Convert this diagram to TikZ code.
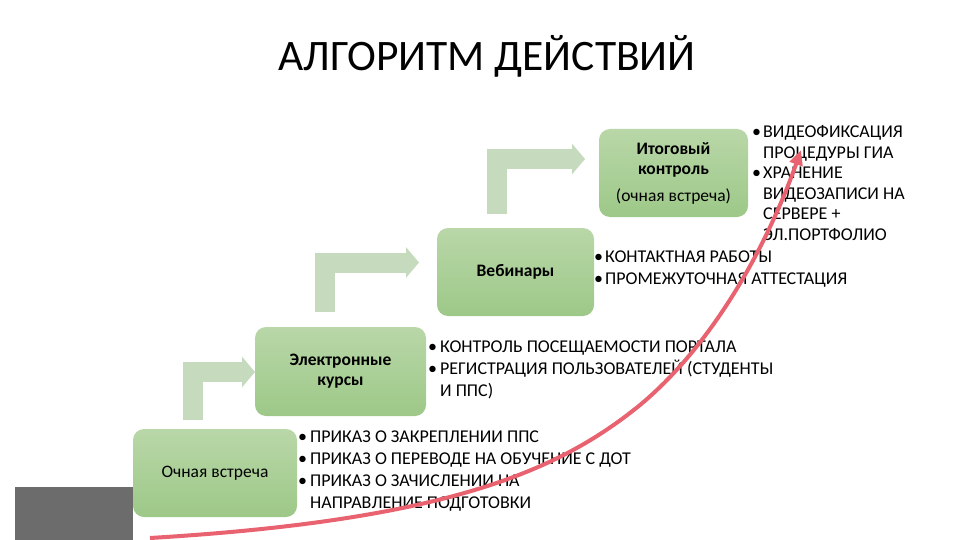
\documentclass[tikz,border=0pt]{standalone}
\usepackage{fontspec}
\setmainfont{Carlito}
\usetikzlibrary{arrows.meta}
\definecolor{stagegreen}{RGB}{185,215,168}
\definecolor{stagegreendark}{RGB}{157,200,136}
\definecolor{bendgreen}{RGB}{198,218,190}
\definecolor{curvered}{RGB}{232,98,112}
\definecolor{blockgray}{RGB}{108,108,108}

\begin{document}
\begin{tikzpicture}[x=1pt, y=-1pt,
    stagebox/.style={rectangle, rounded corners=11pt, top color=stagegreen, bottom color=stagegreendark,
                align=center, inner sep=0pt, font=\fontsize{17.5}{20}\selectfont},
    bendarr/.style={draw=bendgreen, line width=20pt, -{Triangle[length=13pt,width=30pt]}},
    bullets/.style={anchor=base west, inner sep=0pt, align=left, font=\fontsize{18}{22}\selectfont},
    redarr/.style={draw=curvered, line width=4pt, -{Triangle[length=15pt,width=13pt]}}]
\useasboundingbox (0,0) rectangle (960,540);
\node[font=\fontsize{43.5}{50}\selectfont] (title) at (487,56) {АЛГОРИТМ ДЕЙСТВИЙ};
\fill[blockgray] (15,487) rectangle (133,540);
% bent arrows between the stages
\coordinate (b1) at (192.5,420); \coordinate (e1) at (255,372);
\coordinate (b2) at (325,312);   \coordinate (e2) at (419,262.5);
\coordinate (b3) at (496.5,214); \coordinate (e3) at (585,159);
\draw[bendarr] (b1) |- (e1); \draw[bendarr] (b2) |- (e2); \draw[bendarr] (b3) |- (e3);
% stages
\node[stagebox, minimum width=164pt, minimum height=88pt] (meet) at (215,473) {Очная встреча};
\node[stagebox, minimum width=171pt, minimum height=89pt] (ecourse) at (340.5,371.5) {\textbf{Электронные}\\\textbf{курсы}};
\node[stagebox, minimum width=157pt, minimum height=88pt] (webinar) at (515.5,272) {\textbf{Вебинары}};
\node[stagebox, minimum width=149pt, minimum height=88pt] (final) at (673.5,173) {\textbf{Итоговый}\\\textbf{контроль}\\[7pt](очная встреча)};
% lists
\node[bullets] (orders) at (298,442) {\begin{tabular}[t]{@{}l@{\hspace{3pt}}l@{}}
• & ПРИКАЗ О ЗАКРЕПЛЕНИИ ППС\\
• & ПРИКАЗ О ПЕРЕВОДЕ НА ОБУЧЕНИЕ С ДОТ\\
• & ПРИКАЗ О ЗАЧИСЛЕНИИ НА\\
  & НАПРАВЛЕНИЕ ПОДГОТОВКИ
\end{tabular}};
\node[bullets] (portal) at (428,352) {\begin{tabular}[t]{@{}l@{\hspace{3pt}}l@{}}
• & КОНТРОЛЬ ПОСЕЩАЕМОСТИ ПОРТАЛА\\
• & РЕГИСТРАЦИЯ ПОЛЬЗОВАТЕЛЕЙ (СТУДЕНТЫ\\
  & И ППС)
\end{tabular}};
\node[bullets] (contact) at (594,262) {\begin{tabular}[t]{@{}l@{\hspace{2pt}}l@{}}
• & КОНТАКТНАЯ РАБОТЫ\\
• & ПРОМЕЖУТОЧНАЯ АТТЕСТАЦИЯ
\end{tabular}};
\node[bullets, font=\fontsize{18}{20.5}\selectfont] (video) at (752,138) {\begin{tabular}[t]{@{}l@{\hspace{2pt}}l@{}}
• & ВИДЕОФИКСАЦИЯ\\
  & ПРОЦЕДУРЫ ГИА\\
• & ХРАНЕНИЕ\\
  & ВИДЕОЗАПИСИ НА\\
  & СЕРВЕРЕ +\\
  & ЭЛ.ПОРТФОЛИО
\end{tabular}};
% rising curve
\coordinate (rstart) at (150,538); \coordinate (rmid) at (640,405); \coordinate (rtip) at (801,150);
\draw[redarr] (rstart) .. controls (450,520) and (560,470) .. (rmid) .. controls (730,330) and (780,210) .. (rtip);
\end{tikzpicture}
\end{document}
